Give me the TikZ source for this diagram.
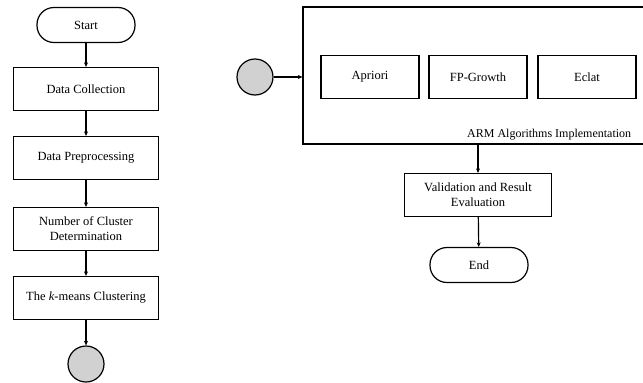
\documentclass[tikz,border=0pt]{standalone}
\usepackage{fontspec}
\setmainfont{Liberation Serif}
\usetikzlibrary{arrows.meta}
\begin{document}
\begin{tikzpicture}
[x=1pt,y=-1pt,
  boxdecorate/.style={shape=rectangle,draw,line width=1.2pt,minimum width=145pt,minimum height=43pt,align=center,inner sep=2pt},%
  termdecorate/.style={shape=rectangle,rounded corners=17pt,draw,line width=1.2pt,minimum width=98pt,minimum height=35pt},%
  algdecorate/.style={shape=rectangle,draw,line width=1.2pt,minimum width=98pt,minimum height=43pt},%
  connectdecorate/.style={shape=circle,draw,line width=1.2pt,fill=black!18,minimum size=36pt,inner sep=0pt},%
  linedecorate/.style={-{Stealth[length=4.5pt,width=4pt]},line width=1.2pt},%
  font=\fontsize{12.5}{15}\selectfont]
\useasboundingbox (0,0) rectangle (643,383);
%% left column
\node (start) at (86,25) [termdecorate] {Start};
\foreach \nodename/\y/\text in {
  collect/89/Data Collection, prep/158/Data Preprocessing,
  clusters/229/{Number of Cluster\\Determination},
  kmeans/298/{The \textit{k}-means Clustering}}
{
  \node (\nodename) at (86,\y) [boxdecorate] {\text};
}
\node (linkA) at (86,364) [connectdecorate] {};
%% right column
\node (linkB) at (255,77) [connectdecorate] {};
\node (arm) at (478,75.5) [draw,line width=1.2pt,minimum width=350pt,minimum height=137pt] {};
\node [anchor=south west,inner sep=1pt,font=\fontsize{12}{14}\selectfont] at (466,141) {ARM Algorithms Implementation};
\foreach \nodename/\x/\text in {apriori/370/Apriori, fpgrowth/478/FP-Growth, eclat/587/Eclat}
{
  \node (\nodename) at (\x,77) [algdecorate] {\text};
}
\node (valid) at (478,195) [boxdecorate,minimum width=147pt] {Validation and Result\\Evaluation};
\node (finish) at (479,265) [termdecorate] {End};
%% edges or lines
\path
\foreach \startnode/\endnode in {start/collect, collect/prep, prep/clusters,
  clusters/kmeans, kmeans/linkA, arm/valid, valid/finish} {
  (\startnode) edge[linedecorate] (\endnode)
};
\draw[linedecorate] (linkB) -- (arm.west |- linkB);
\end{tikzpicture}
\end{document}
